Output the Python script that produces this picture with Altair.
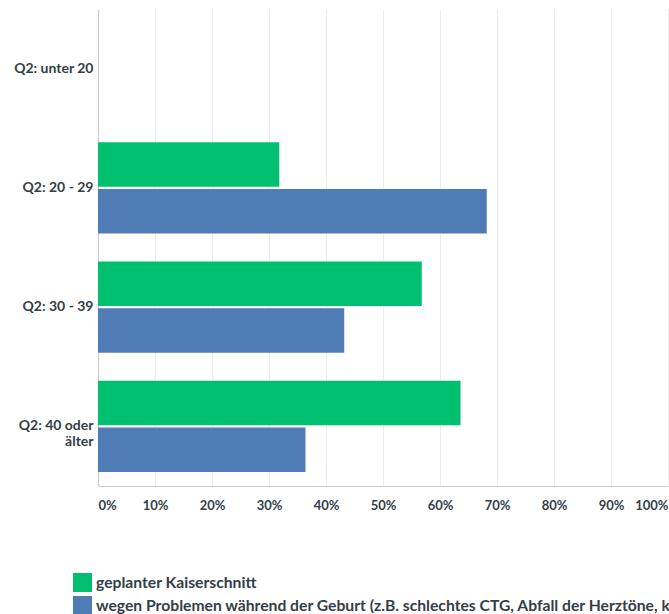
import altair as alt
import pandas as pd

categories = ["Q2: unter 20", "Q2: 20 - 29", "Q2: 30 - 39", "Q2: 40 oder älter"]
series = [
    "geplanter Kaiserschnitt",
    "wegen Problemen während der Geburt (z.B. schlechtes CTG, Abfall der Herztöne, kein Geburtsfortschritt)",
]
planned = [None, 31.8, 56.8, 63.6]
problems = [None, 68.2, 43.2, 36.4]
colors = ["#00BF6F", "#507CB6"]
x_ticks = [0, 10, 20, 30, 40, 50, 60, 70, 80, 90, 100]

rows = []
for cat, a, b in zip(categories, planned, problems):
    if a is not None:
        rows.append({"Kategorie": cat, "Serie": series[0], "Wert": a})
    if b is not None:
        rows.append({"Kategorie": cat, "Serie": series[1], "Wert": b})
df = pd.DataFrame(rows)

FONT = "Lato"
TEXT = "#333e48"

chart = (
    alt.Chart(df)
    .mark_bar()
    .encode(
        y=alt.Y(
            "Kategorie:N",
            sort=categories,
            scale=alt.Scale(domain=categories, paddingInner=0.236, paddingOuter=0.118),
            axis=alt.Axis(
                title=None,
                ticks=False,
                grid=False,
                domain=True,
                domainColor="#cccccc",
                labelPadding=5,
                labelFontSize=14,
                labelLineHeight=16,
                labelExpr="datum.value == 'Q2: 40 oder älter' ? ['Q2: 40 oder', 'älter'] : datum.value",
            ),
        ),
        yOffset=alt.YOffset(
            "Serie:N", sort=series, scale=alt.Scale(domain=series, paddingInner=0.045)
        ),
        x=alt.X(
            "Wert:Q",
            scale=alt.Scale(domain=[0, 100]),
            axis=alt.Axis(
                title=None,
                values=x_ticks,
                labelExpr="datum.value + '%'",
                ticks=False,
                grid=True,
                gridColor="#ededed",
                domainColor="#cccccc",
                labelFlush=True,
                labelPadding=13,
                labelFontSize=13,
            ),
        ),
        color=alt.Color(
            "Serie:N",
            sort=series,
            scale=alt.Scale(domain=series, range=colors),
            legend=alt.Legend(
                title=None,
                orient="none",
                legendX=-25,
                legendY=564,
                symbolType="square",
                symbolSize=361,
                symbolStrokeWidth=0,
                symbolOpacity=1,
                labelFontSize=15.7,
                labelLimit=2000,
                labelOffset=4,
                rowPadding=4,
            ),
        ),
    )
    .properties(
        width=570,
        height=477,
        autosize=alt.AutoSizeParams(type="none"),
        padding={"left": 98, "top": 9, "right": 1, "bottom": 128},
    )
    .configure_view(strokeWidth=0)
    .configure_axis(labelFont=FONT, labelFontWeight="bold", labelColor=TEXT)
    .configure_legend(labelFont=FONT, labelFontWeight="bold", labelColor=TEXT)
)

chart.save("out.html", embed_options={"renderer": "svg", "actions": False})
